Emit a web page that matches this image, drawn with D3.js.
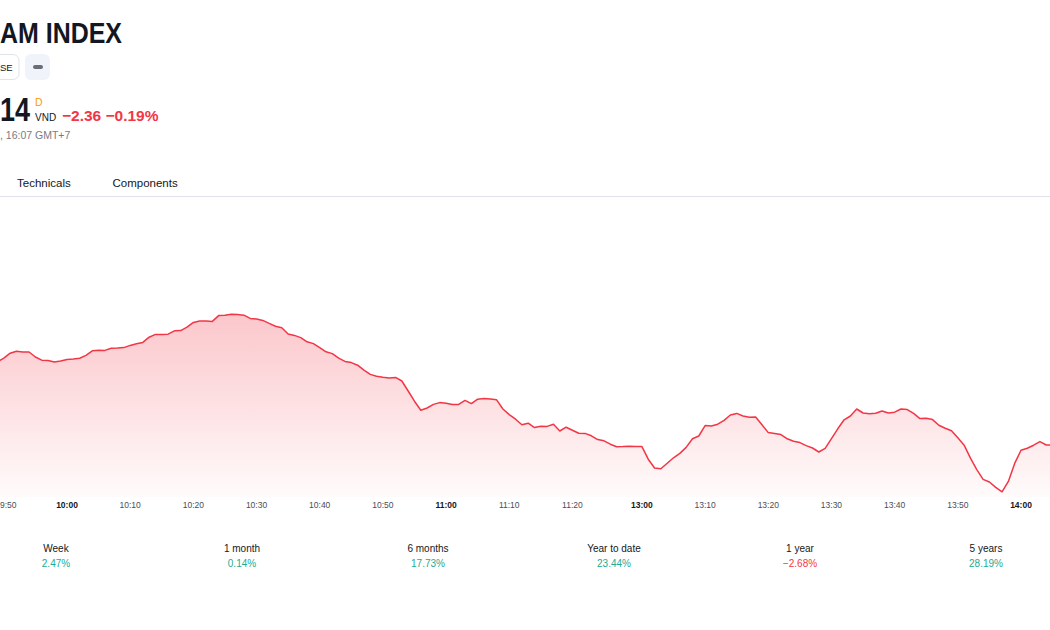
<!DOCTYPE html>
<html><head><meta charset="utf-8">
<script src="https://cdn.jsdelivr.net/npm/d3@7"></script>
<style>
html,body{margin:0;padding:0;background:#fff;overflow:hidden}
svg{display:block;font-family:"Liberation Sans",Arial,sans-serif}
</style></head><body>
<svg id="c" width="1050" height="630"></svg>
<script>
// ---- data ----
const morningStart = "09:49";
const morningValues = [
1247.40,1247.59,1247.84,1247.94,1247.90,1247.90,1247.65,1247.49,1247.47,1247.40,
1247.45,1247.53,1247.55,1247.59,1247.73,1247.96,1247.99,1247.98,1248.09,1248.10,
1248.12,1248.23,1248.31,1248.38,1248.64,1248.78,1248.77,1248.79,1248.96,1248.97,
1249.14,1249.38,1249.45,1249.45,1249.43,1249.72,1249.74,1249.79,1249.77,1249.74,
1249.58,1249.55,1249.48,1249.33,1249.19,1249.11,1248.80,1248.73,1248.62,1248.41,
1248.32,1248.12,1247.91,1247.82,1247.59,1247.43,1247.37,1247.24,1246.99,1246.78,
1246.69,1246.64,1246.60,1246.63,1246.45,1245.95,1245.44,1244.99,1245.10,1245.28,
1245.37,1245.34,1245.28,1245.28,1245.48,1245.32,1245.54,1245.58,1245.55,1245.51,
1245.05,1244.77,1244.54,1244.26,1244.34,1244.12,1244.19,1244.18,1244.29,1243.95,
1244.14,1243.99,1243.84,1243.83,1243.71,1243.52,1243.46,1243.29,1243.16,1243.17,
1243.19,1243.18];
const afternoonStart = "13:00";
const afternoonValues = [
1243.17,1242.54,1242.10,1242.06,1242.34,1242.61,1242.83,1243.13,1243.56,1243.70,
1244.22,1244.20,1244.29,1244.48,1244.75,1244.83,1244.70,1244.64,1244.65,1244.26,
1243.87,1243.83,1243.77,1243.56,1243.44,1243.37,1243.22,1243.10,1242.90,1243.08,
1243.57,1244.06,1244.51,1244.70,1245.05,1244.85,1244.81,1244.84,1244.95,1244.85,
1244.89,1245.05,1245.02,1244.83,1244.57,1244.59,1244.52,1244.24,1244.09,1243.96,
1243.61,1243.24,1242.59,1242.02,1241.53,1241.40,1241.13,1240.91,1241.43,1242.33,
1242.99,1243.09,1243.24,1243.42,1243.25,1243.25];
const tickLabels = ["9:50","10:00","10:10","10:20","10:30","10:40","10:50","11:00","11:10","11:20",
                    "13:00","13:10","13:20","13:30","13:40","13:50","14:00"];
const majorTicks = ["10:00","11:00","13:00","14:00"];
const perfLabels = ["Week","1 month","6 months","Year to date","1 year","5 years"];
const perfValues = [2.47, 0.14, 17.73, 23.44, -2.68, 28.19];
// header texts as visible in the (left-cropped) reference
const indexName = "AM INDEX";
const exchange = "SE";
const lastPrice = "14";
const change = -2.36, changePct = -0.19;
const closeNote = ", 16:07 GMT+7";
const tabs = ["Technicals","Components"];

// ---- helpers ----
function barIndex(t){ const [h,m]=t.split(":").map(Number); const mins=h*60+m; return mins>=780 ? mins-90+1 : mins; }
const minus = v => (v<0?"\u2212":"") + Math.abs(v).toFixed(2);

const points = [];
morningValues.forEach((v,i)=>points.push({b: barIndex(morningStart)+i, v}));
afternoonValues.forEach((v,i)=>points.push({b: barIndex(afternoonStart)+i, v}));

const svg = d3.select("#c");
const W = 1050;
const x = d3.scaleLinear().domain([barIndex("10:00"), barIndex("14:00")]).range([67, 1021]);
const y = d3.scaleLinear().domain([1240, 1250]).range([510, 310]);
const plotBottom = 497;

// ---- header ----
const RED = "#f23645", GREEN = "#22ab94", INK = "#131722", GREY = "#787b86", AXIS = "#4a4d57";
svg.append("text").attr("x",0).attr("y",43)
  .attr("font-size",29).attr("font-weight",700).attr("fill",INK)
  .attr("textLength",122).attr("lengthAdjust","spacingAndGlyphs").text(indexName);

svg.append("rect").attr("x",-40).attr("y",54.5).attr("width",59).attr("height",25).attr("rx",6)
  .attr("fill","#fff").attr("stroke","#e0e3eb");
svg.append("text").attr("x",0).attr("y",70.5)
  .attr("font-size",9.5).attr("fill",INK).text(exchange);
svg.append("rect").attr("x",25).attr("y",54).attr("width",25).attr("height",26).attr("rx",6).attr("fill","#f0f3fa");
svg.append("rect").attr("x",33).attr("y",65).attr("width",10).attr("height",4).attr("rx",2).attr("fill","#6a6d78");

svg.append("text").attr("x",0).attr("y",121)
  .attr("font-size",33).attr("font-weight",700).attr("fill",INK)
  .attr("textLength",30).attr("lengthAdjust","spacingAndGlyphs").text(lastPrice);
svg.append("text").attr("x",35).attr("y",106).attr("font-size",10.5).attr("fill","#ff9800").text("D");
svg.append("text").attr("x",35).attr("y",121).attr("font-size",10).attr("fill",INK).text("VND");
svg.append("text").attr("x",62).attr("y",121).attr("font-size",15.5).attr("font-weight",700).attr("fill",RED)
  .text(minus(change)+" "+minus(changePct)+"%");
svg.append("text").attr("x",0).attr("y",139)
  .attr("font-size",10.5).attr("fill",GREY).text(closeNote);

svg.append("text").attr("x",17).attr("y",187).attr("font-size",11.5).attr("fill",INK).text(tabs[0]);
svg.append("text").attr("x",112.5).attr("y",187).attr("font-size",11.5).attr("fill",INK).text(tabs[1]);
svg.append("line").attr("x1",0).attr("x2",W).attr("y1",196.5).attr("y2",196.5).attr("stroke","#e0e3eb");

// ---- chart ----
const defs = svg.append("defs");
const g = defs.append("linearGradient").attr("id","fillGrad").attr("x1",0).attr("x2",0).attr("y1",0).attr("y2",1);
g.append("stop").attr("offset","0%").attr("stop-color",RED).attr("stop-opacity",0.28);
g.append("stop").attr("offset","100%").attr("stop-color",RED).attr("stop-opacity",0.02);

svg.append("path").datum(points)
  .attr("d", d3.area().x(d=>x(d.b)).y0(plotBottom).y1(d=>y(d.v)))
  .attr("fill","url(#fillGrad)");
svg.append("path").datum(points)
  .attr("d", d3.line().x(d=>x(d.b)).y(d=>y(d.v)))
  .attr("fill","none").attr("stroke",RED).attr("stroke-width",1.5).attr("stroke-linejoin","round");

// ---- time axis ----
const ticks = svg.append("g").selectAll("text").data(tickLabels).join("text")
  .attr("x", d=>x(barIndex(d))).attr("y",508).attr("text-anchor","middle")
  .attr("font-size",8.5)
  .attr("fill", d=>majorTicks.includes(d)?INK:AXIS)
  .attr("font-weight", d=>majorTicks.includes(d)?700:400)
  .text(d=>d);
// keep the edge label inside the picture
ticks.each(function(d){
  const w = this.getComputedTextLength();
  const cx = x(barIndex(d));
  if (cx - w/2 < 0) d3.select(this).attr("x", w/2);
});

// ---- performance ----
const perf = d3.scalePoint().domain(perfLabels).range([56, 986]);
const pg = svg.append("g");
pg.selectAll("text.l").data(perfLabels).join("text").attr("class","l")
  .attr("x",d=>perf(d)).attr("y",552).attr("text-anchor","middle")
  .attr("font-size",10).attr("fill",INK).text(d=>d);
pg.selectAll("text.v").data(perfValues).join("text").attr("class","v")
  .attr("x",(d,i)=>perf(perfLabels[i])).attr("y",567).attr("text-anchor","middle")
  .attr("font-size",10).attr("fill",d=>d<0?RED:GREEN).text(d=>minus(d)+"%");
</script>
</body></html>
